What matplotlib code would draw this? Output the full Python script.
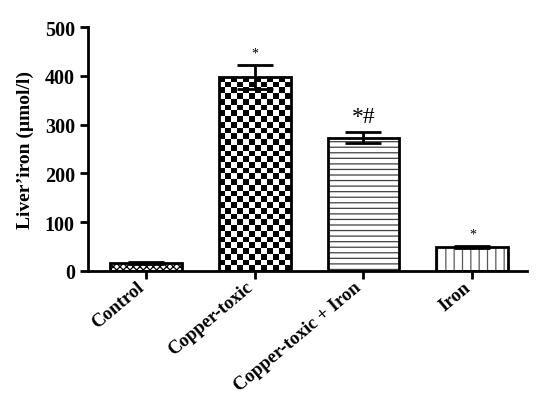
import numpy as np
import matplotlib
matplotlib.use("Agg")
import matplotlib.pyplot as plt

# data
groups = ["Control", "Copper-toxic", "Copper-toxic + Iron", "Iron"]
means = [16, 398, 273, 50]
errs = [2, 25, 11, 2]
marks = ["", "*", "*#", "*"]
mark_sizes = [10, 10, 17, 10]
hatches = ["xxxxx", "", "---", "||"]
hatch_colors = ["black", "black", "0.25", "0.35"]

plt.rcParams["font.family"] = ["Liberation Serif", "DejaVu Serif"]
plt.rcParams["font.weight"] = "bold"
plt.rcParams["hatch.linewidth"] = 0.9

fig = plt.figure(figsize=(5.37, 4.14), dpi=100)
ax = fig.add_axes([0.164, 0.343, 0.817, 0.589])

x = np.arange(len(groups))
bars = ax.bar(x, means, width=0.66, color="white", edgecolor="black", linewidth=2, zorder=2)
for b, h, hc in zip(bars, hatches, hatch_colors):
    if h:
        b.set_hatch(h)
        b._hatch_color = matplotlib.colors.to_rgba(hc)

# checkerboard fill for Copper-toxic
cb = bars[1]
cb.set_facecolor("none")
ncol, nrow = 12, 34
board = (np.indices((nrow, ncol)).sum(axis=0) % 2).astype(float)
x0, w = cb.get_x(), cb.get_width()
im = ax.imshow(board, cmap="gray", extent=(x0, x0 + w, 0, cb.get_height()),
               aspect="auto", interpolation="nearest", zorder=1.5)
im.set_clip_path(cb)

ax.errorbar(x, means, yerr=errs, fmt="none", ecolor="black", elinewidth=2,
            capsize=13, capthick=2, zorder=3)

for xi, m, e, s, fs in zip(x, means, errs, marks, mark_sizes):
    if s:
        ax.annotate(s, (xi, m + e), xytext=(0, 4), textcoords="offset points",
                    ha="center", va="bottom", fontsize=fs, fontweight="normal")

ax.set_xlim(-0.53, 3.5)
ax.set_ylim(0, 500)
ax.set_yticks([0, 100, 200, 300, 400, 500])
ax.set_xticks(x)
ax.set_xticklabels([])
# category labels, slanted and set a little left of each tick
for xi, g in zip(x, groups):
    ax.annotate(g, (xi, 0), xycoords=("data", "axes fraction"), xytext=(-3, -10),
                textcoords="offset points", rotation=40, rotation_mode="anchor",
                ha="right", va="center", fontsize=13.5, fontweight="bold",
                annotation_clip=False)
ax.tick_params(axis="y", labelsize=14.5, width=2, length=6)
ax.tick_params(axis="x", width=2, length=6)
ax.set_ylabel("Liver’iron (µmol/l)", fontsize=14, fontweight="bold", labelpad=8)
for side in ["top", "right"]:
    ax.spines[side].set_visible(False)
for side in ["left", "bottom"]:
    ax.spines[side].set_linewidth(2)

fig.savefig("out.png", dpi=100)
